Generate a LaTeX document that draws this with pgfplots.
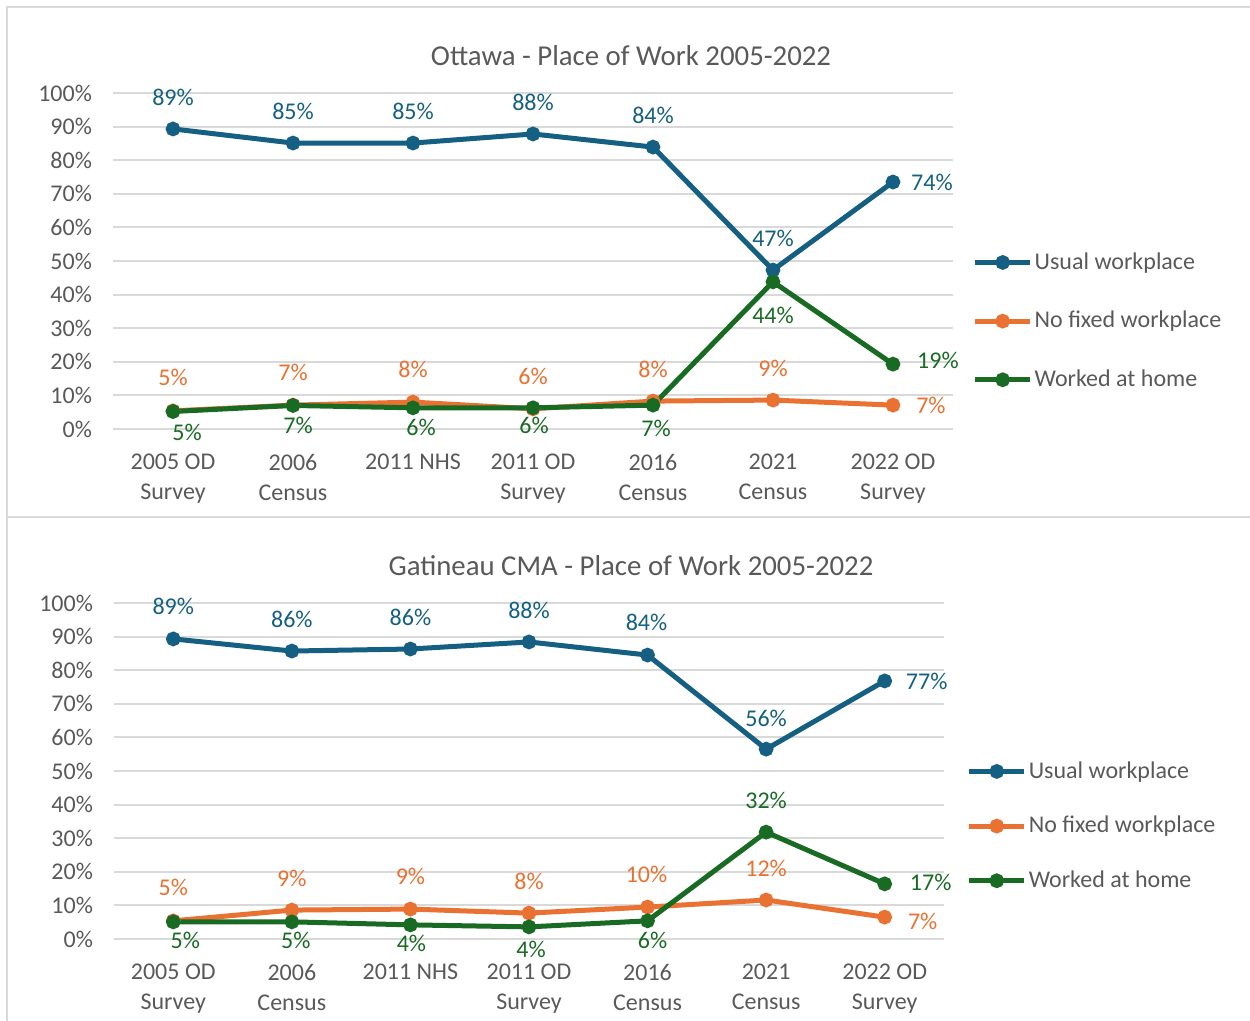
\documentclass[border=0pt]{standalone}
\usepackage{fontspec}
\setmainfont{Carlito}
\usepackage{pgfplots}
\usepackage{pgfplotstable}
\pgfplotsset{compat=1.18}
\definecolor{cblue}{HTML}{156082}
\definecolor{corange}{HTML}{E97132}
\definecolor{cgreen}{HTML}{196B24}
\definecolor{cgrid}{HTML}{D9D9D9}
\definecolor{ctext}{HTML}{595959}

% Ottawa
\pgfplotstableread{
x y lab dx dy
0 89.3 89 0 16
1 85.1 85 0 16
2 85.1 85 0 16
3 87.8 88 0 16
4 83.9 84 0 16
5 47.3 47 0 16
6 73.5 74 19.5 0
}\tOU
\pgfplotstableread{
x y lab dx dy
0 5.4 5 0 16.5
1 7.1 7 0 16.5
2 8.0 8 0 16.5
3 6.0 6 0 16
4 8.3 8 0 16
5 8.6 9 0 16
6 7.1 7 19 0
}\tON
\pgfplotstableread{
x y lab dx dy
0 5.2 5 7 -10.5
1 7.0 7 2.5 -10
2 6.3 6 4 -10
3 6.3 6 0.5 -9
4 7.1 7 1.5 -11.5
5 43.8 44 0 -17
6 19.3 19 22.5 2
}\tOW
% Gatineau
\pgfplotstableread{
x y lab dx dy
0 89.3 89 0 16.5
1 85.7 86 0 16
2 86.3 86 0 16
3 88.4 88 0 16
4 84.5 84 -0.5 16.5
5 56.5 56 0 15.5
6 76.8 77 21 0
}\tGU
\pgfplotstableread{
x y lab dx dy
0 5.4 5 0 16.5
1 8.6 9 0 16
2 8.9 9 0 16.5
3 7.7 8 0 16
4 9.5 10 -0.5 16.5
5 11.6 12 0 16
6 6.5 7 19 -2
}\tGN
\pgfplotstableread{
x y lab dx dy
0 5.1 5 6 -9.5
1 5.1 5 2 -9.5
2 4.2 4 0.5 -9.5
3 3.6 4 1 -11.5
4 5.4 6 2.5 -10
5 31.8 32 0 16
6 16.4 17 23 0.5
}\tGW

\newcommand{\fs}{\fontsize{12}{15}\selectfont}
\pgfplotsset{
  pw/.style={
    scale only axis, height=168pt,
    xmin=-0.5, xmax=6.5, ymin=0, ymax=100,
    axis line style={draw=none}, tick style={draw=none},
    ymajorgrids, grid style={cgrid, line width=1pt},
    ytick={0,10,...,100},
    yticklabel={\pgfmathprintnumber{\tick}\%},
    /pgf/number format/assume math mode=true,
    yticklabel style={font=\fs, text=ctext, xshift=-7pt},
    xtick={0,...,6},
    xticklabels={{2005 OD\\Survey},{2006\\Census},{2011 NHS},{2011 OD\\Survey},{2016\\Census},{2021\\Census},{2022 OD\\Survey}},
    xticklabel style={align=center, font=\fs, text=ctext, yshift=-9pt},
    clip=false,
    legend cell align=left,
    legend image code/.code={\draw[mark repeat=2,mark phase=2,##1] plot coordinates {(0pt,0pt) (13.75pt,0pt) (27.5pt,0pt)};},
  },
  ser/.style={color=#1, line width=2.5pt, mark=*, mark size=2.4pt, mark options={solid},
    point meta=explicit symbolic,
    nodes near coords={\pgfplotspointmeta\%},
    visualization depends on={\thisrow{dx}\as\lx},
    visualization depends on={\thisrow{dy}\as\ly},
    every node near coord/.append style={text=#1, anchor=center, font=\fs, xshift=\lx pt, yshift=\ly pt}},
}

\begin{document}
\begin{tikzpicture}
\useasboundingbox (0,0) rectangle (625pt,510.5pt);
\draw[cgrid, line width=1pt] (3.5pt,0pt) -- (3.5pt,507pt) -- (630pt,507pt);
\draw[cgrid, line width=1pt] (3.5pt,252pt) -- (630pt,252pt);

\begin{axis}[pw, width=420pt, at={(56.5pt,296pt)}, anchor=south west,
  legend style={draw=none, fill=none, at={(axis description cs:1.023,0.321)}, anchor=west,
    font=\fs, text=ctext, row sep=17.5pt, inner sep=0pt, nodes={inner sep=1pt}}]
\addplot[ser=cblue] table[x=x,y=y,meta=lab]{\tOU};
\addplot[ser=corange] table[x=x,y=y,meta=lab]{\tON};
\addplot[ser=cgreen] table[x=x,y=y,meta=lab]{\tOW};
\legend{Usual workplace,No fixed workplace,Worked at home}
\end{axis}
\node[text=ctext, font=\fontsize{14.4}{17}\selectfont] at (315.5pt,482.5pt) {Ottawa - Place of Work 2005-2022};

\begin{axis}[pw, width=415pt, at={(57pt,41pt)}, anchor=south west,
  legend style={draw=none, fill=none, at={(axis description cs:1.027,0.336)}, anchor=west,
    font=\fs, text=ctext, row sep=15.5pt, inner sep=0pt, nodes={inner sep=1pt}}]
\addplot[ser=cblue] table[x=x,y=y,meta=lab]{\tGU};
\addplot[ser=corange] table[x=x,y=y,meta=lab]{\tGN};
\addplot[ser=cgreen] table[x=x,y=y,meta=lab]{\tGW};
\legend{Usual workplace,No fixed workplace,Worked at home}
\end{axis}
\node[text=ctext, font=\fontsize{14.4}{17}\selectfont] at (315.5pt,227.5pt) {Gatineau CMA - Place of Work 2005-2022};
\end{tikzpicture}
\end{document}
